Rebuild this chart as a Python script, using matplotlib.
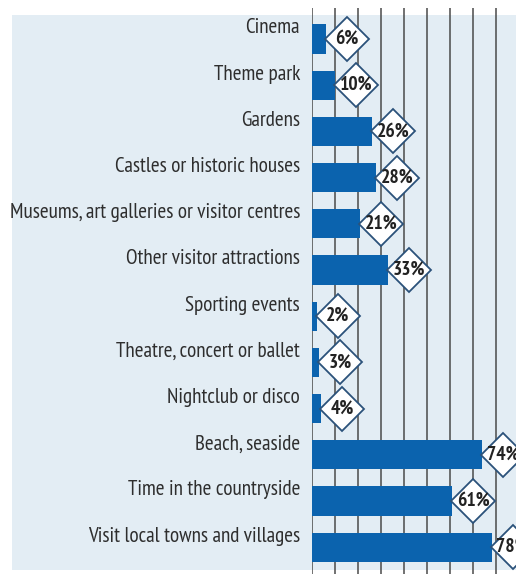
import matplotlib.pyplot as plt
from matplotlib import font_manager
from matplotlib.patches import Rectangle
from matplotlib.transforms import offset_copy, blended_transform_factory

# survey data
activities = ['Cinema', 'Theme park', 'Gardens', 'Castles or historic houses',
              'Museums, art galleries or visitor centres', 'Other visitor attractions',
              'Sporting events', 'Theatre, concert or ballet', 'Nightclub or disco',
              'Beach, seaside', 'Time in the countryside', 'Visit local towns and villages']
percent = [6, 10, 26, 28, 21, 33, 2, 3, 4, 74, 61, 78]

bar_col = '#0b63ae'
bg_col = '#e3edf4'
edge_col = '#2b527a'

# want a condensed face like the original print
installed = {f.name for f in font_manager.fontManager.ttflist}
wanted = ['PT Sans Narrow', 'Roboto Condensed', 'Fira Sans Condensed', 'Open Sans Condensed',
          'Archivo Narrow', 'IBM Plex Sans Condensed', 'Encode Sans Condensed',
          'Asap Condensed', 'Barlow Semi Condensed', 'Liberation Sans Narrow']
fam = [f for f in wanted if f in installed][:1]
plt.rcParams['font.family'] = fam + ['DejaVu Sans']

W, H = 516, 574
fig = plt.figure(figsize=(W / 100, H / 100), dpi=100)

# light blue panel behind everything
fig.patches.append(Rectangle((12 / W, 4 / H), 1 - 12 / W, (574 - 15 - 4) / H,
                             transform=fig.transFigure, facecolor=bg_col,
                             edgecolor='none', zorder=-5))

ax = fig.add_axes([312 / W, 0, 1 - 312 / W, (574 - 8) / H])
ax.set_facecolor('none')

y = list(range(len(activities)))
ax.barh(y, percent, height=0.63, color=bar_col, zorder=2)

ax.set_xlim(0, 88.6)
ax.set_ylim(11.58, -0.67)
ax.set_xticks(range(0, 81, 10))
ax.xaxis.grid(True, color='#4a4a4a', linewidth=1.1)
ax.set_axisbelow(True)
ax.tick_params(axis='x', length=0, labelbottom=False)
ax.set_yticks([])
for s in ax.spines.values():
    s.set_visible(False)

# category names sit a little above the bar centre, as in the print
lab_tr = offset_copy(blended_transform_factory(ax.transAxes, ax.transData),
                     fig=fig, x=-12, y=11, units='dots')
for name, yi in zip(activities, y):
    ax.text(0, yi, name, transform=lab_tr, ha='right', va='center',
            fontsize=15.2, color='#2e2e2e', clip_on=False)

# diamond labels sit just past the bar ends
shift = offset_copy(ax.transData, fig=fig, x=21, y=0, units='dots')
ax.plot(percent, y, linestyle='none', marker='D', markersize=22.5,
        markerfacecolor='white', markeredgecolor=edge_col, markeredgewidth=1.3,
        transform=shift, zorder=3)
for v, yi in zip(percent, y):
    ax.text(v, yi, f'{v}%', transform=shift, ha='center', va='center',
            fontsize=14, fontweight='bold', color='#222222', zorder=4)

fig.savefig('out.png', dpi=100)
